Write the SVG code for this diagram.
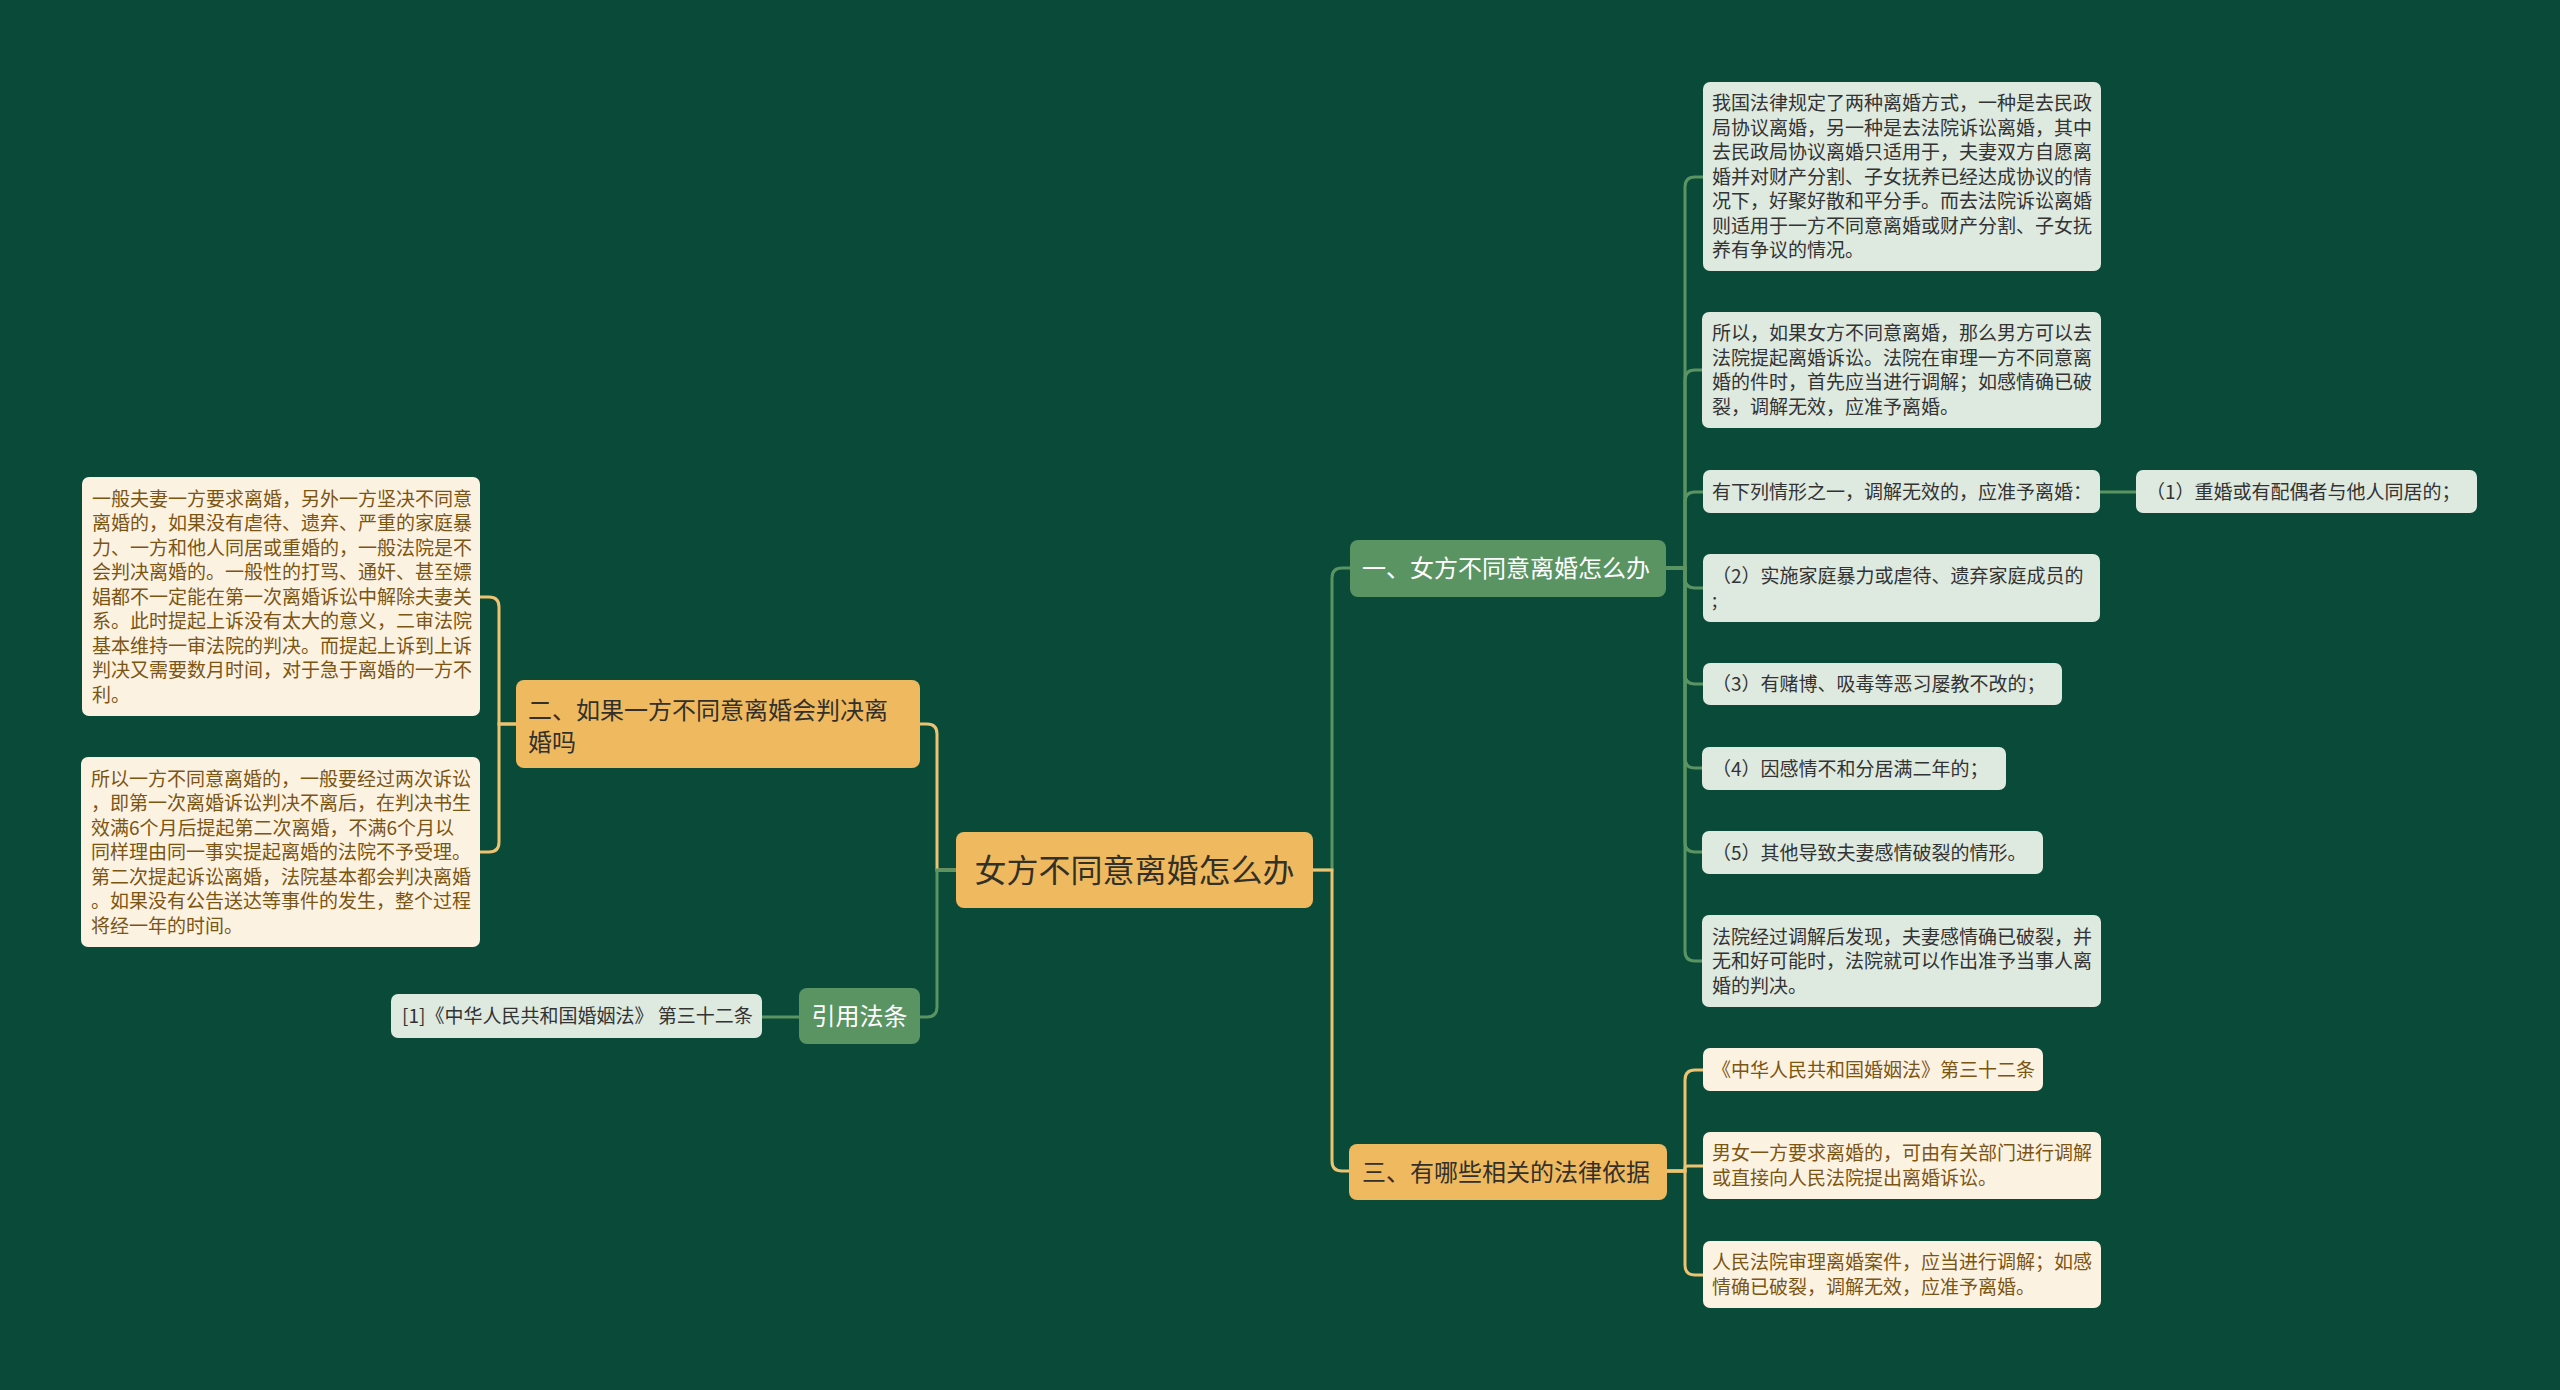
<svg xmlns="http://www.w3.org/2000/svg" width="2560" height="1390" viewBox="0 0 2560 1390">
<style>
text{font-family:"Noto Sans CJK SC","Noto Sans",sans-serif;}
.bg{fill:#0a4a39;}
.cg{fill:none;stroke:#5b9463;stroke-width:3;stroke-linecap:round;}
.cy{fill:none;stroke:#ecc371;stroke-width:3;stroke-linecap:round;}
.root{fill:#efba5f;}
.gnode{fill:#5b9463;}
.ynode{fill:#efba5f;}
.gleaf{fill:#dee9df;}
.yleaf{fill:#fcf2e2;}
.troot{font-size:32px;fill:#333026;}
.tg{font-size:24px;fill:#ffffff;}
.ty{font-size:24px;fill:#33302a;}
.tgl{font-size:19px;fill:#333333;}
.tyl{font-size:19px;fill:#7b5512;}
</style>
<rect class="bg" x="0" y="0" width="2560" height="1390"/>

<g id="connectors">
<path class="cy" d="M956,870 H937 V734 Q937,724 927,724 H920"/>
<path class="cg" d="M956,870 H937 V1007 Q937,1017 927,1017 H920"/>
<path class="cg" d="M1313,870 H1332 V578 Q1332,568 1342,568 H1350"/>
<path class="cy" d="M1313,870 H1332 V1161 Q1332,1171 1342,1171 H1349"/>
<path class="cy" d="M516,724 H499 V607 Q499,597 489,597 H480"/>
<path class="cy" d="M516,724 H499 V842 Q499,852 489,852 H480"/>
<path class="cg" d="M799,1017 H762"/>
<path class="cg" d="M1666,568 H1685 V187 Q1685,177 1695,177 H1703"/>
<path class="cg" d="M1666,568 H1685 V380 Q1685,370 1695,370 H1702"/>
<path class="cg" d="M1666,568 H1685 V502 Q1685,492 1695,492 H1703"/>
<path class="cg" d="M1666,568 H1685 V578 Q1685,588 1695,588 H1703"/>
<path class="cg" d="M1666,568 H1685 V674 Q1685,684 1695,684 H1703"/>
<path class="cg" d="M1666,568 H1685 V758 Q1685,768 1695,768 H1702"/>
<path class="cg" d="M1666,568 H1685 V842 Q1685,852 1695,852 H1702"/>
<path class="cg" d="M1666,568 H1685 V951 Q1685,961 1695,961 H1702"/>
<path class="cg" d="M2100,492 H2136"/>
<path class="cy" d="M1667,1171 H1685 V1080 Q1685,1070 1695,1070 H1703"/>
<path class="cy" d="M1667,1171 H1685 V1168 Q1685,1166 1688,1166 H1703"/>
<path class="cy" d="M1667,1171 H1685 V1265 Q1685,1275 1695,1275 H1703"/>
</g>

<g id="root">
<rect class="root" x="956" y="832" width="357" height="76" rx="8"/>
<text class="troot" x="1134.5" y="882" text-anchor="middle">女方不同意离婚怎么办</text>
</g>

<g id="b1">
<rect class="gnode" x="1350" y="540" width="316" height="57" rx="8"/>
<text class="tg" x="1362" y="577">一、女方不同意离婚怎么办</text>
</g>

<g id="b2">
<rect class="ynode" x="516" y="680" width="404" height="88" rx="8"/>
<text class="ty" x="528" y="718.5">二、如果一方不同意离婚会判决离</text>
<text class="ty" x="528" y="750.5">婚吗</text>
</g>

<g id="b3">
<rect class="ynode" x="1349" y="1144" width="318" height="56" rx="8"/>
<text class="ty" x="1362" y="1181">三、有哪些相关的法律依据</text>
</g>

<g id="b4">
<rect class="gnode" x="799" y="988" width="121" height="56" rx="8"/>
<text class="tg" x="859.5" y="1025" text-anchor="middle">引用法条</text>
</g>

<g id="cite">
<rect class="gleaf" x="391" y="994" width="371" height="44" rx="7"/>
<text class="tgl" x="402" y="1023">[1]《中华人民共和国婚姻法》 第三十二条</text>
</g>

<g id="l1">
<rect class="yleaf" x="82" y="477" width="398" height="239" rx="7"/>
<text class="tyl" x="92" y="505.5">一般夫妻一方要求离婚，另外一方坚决不同意</text>
<text class="tyl" x="92" y="530">离婚的，如果没有虐待、遗弃、严重的家庭暴</text>
<text class="tyl" x="92" y="554.5">力、一方和他人同居或重婚的，一般法院是不</text>
<text class="tyl" x="92" y="579">会判决离婚的。一般性的打骂、通奸、甚至嫖</text>
<text class="tyl" x="92" y="603.5">娼都不一定能在第一次离婚诉讼中解除夫妻关</text>
<text class="tyl" x="92" y="628">系。此时提起上诉没有太大的意义，二审法院</text>
<text class="tyl" x="92" y="652.5">基本维持一审法院的判决。而提起上诉到上诉</text>
<text class="tyl" x="92" y="677">判决又需要数月时间，对于急于离婚的一方不</text>
<text class="tyl" x="92" y="701.5">利。</text>
</g>

<g id="l2">
<rect class="yleaf" x="81" y="757" width="399" height="190" rx="7"/>
<text class="tyl" x="91" y="785.5">所以一方不同意离婚的，一般要经过两次诉讼</text>
<text class="tyl" x="91" y="810">，即第一次离婚诉讼判决不离后，在判决书生</text>
<text class="tyl" x="91" y="834.5">效满6个月后提起第二次离婚，不满6个月以</text>
<text class="tyl" x="91" y="859">同样理由同一事实提起离婚的法院不予受理。</text>
<text class="tyl" x="91" y="883.5">第二次提起诉讼离婚，法院基本都会判决离婚</text>
<text class="tyl" x="91" y="908">。如果没有公告送达等事件的发生，整个过程</text>
<text class="tyl" x="91" y="932.5">将经一年的时间。</text>
</g>

<g id="r1">
<rect class="gleaf" x="1703" y="82" width="398" height="189" rx="7"/>
<text class="tgl" x="1712" y="110">我国法律规定了两种离婚方式，一种是去民政</text>
<text class="tgl" x="1712" y="134.5">局协议离婚，另一种是去法院诉讼离婚，其中</text>
<text class="tgl" x="1712" y="159">去民政局协议离婚只适用于，夫妻双方自愿离</text>
<text class="tgl" x="1712" y="183.5">婚并对财产分割、子女抚养已经达成协议的情</text>
<text class="tgl" x="1712" y="208">况下，好聚好散和平分手。而去法院诉讼离婚</text>
<text class="tgl" x="1712" y="232.5">则适用于一方不同意离婚或财产分割、子女抚</text>
<text class="tgl" x="1712" y="257">养有争议的情况。</text>
</g>

<g id="r2">
<rect class="gleaf" x="1702" y="312" width="399" height="116" rx="7"/>
<text class="tgl" x="1712" y="340.25">所以，如果女方不同意离婚，那么男方可以去</text>
<text class="tgl" x="1712" y="364.75">法院提起离婚诉讼。法院在审理一方不同意离</text>
<text class="tgl" x="1712" y="389.25">婚的件时，首先应当进行调解；如感情确已破</text>
<text class="tgl" x="1712" y="413.75">裂，调解无效，应准予离婚。</text>
</g>

<g id="r3">
<rect class="gleaf" x="1703" y="470" width="397" height="43" rx="7"/>
<text class="tgl" x="1712" y="498.5">有下列情形之一，调解无效的，应准予离婚：</text>
</g>

<g id="r3a">
<rect class="gleaf" x="2136" y="470" width="341" height="43" rx="7"/>
<text class="tgl" x="2146" y="498.5">（1）重婚或有配偶者与他人同居的；</text>
</g>

<g id="r4">
<rect class="gleaf" x="1703" y="554" width="397" height="68" rx="7"/>
<text class="tgl" x="1712" y="582.75">（2）实施家庭暴力或虐待、遗弃家庭成员的</text>
<text class="tgl" x="1712" y="607.25">;</text>
</g>

<g id="r5">
<rect class="gleaf" x="1703" y="663" width="359" height="42" rx="7"/>
<text class="tgl" x="1712" y="691">（3）有赌博、吸毒等恶习屡教不改的；</text>
</g>

<g id="r6">
<rect class="gleaf" x="1702" y="747" width="304" height="43" rx="7"/>
<text class="tgl" x="1712" y="775.5">（4）因感情不和分居满二年的；</text>
</g>

<g id="r7">
<rect class="gleaf" x="1702" y="831" width="341" height="43" rx="7"/>
<text class="tgl" x="1712" y="859.5">（5）其他导致夫妻感情破裂的情形。</text>
</g>

<g id="r8">
<rect class="gleaf" x="1702" y="915" width="399" height="92" rx="7"/>
<text class="tgl" x="1712" y="943.5">法院经过调解后发现，夫妻感情确已破裂，并</text>
<text class="tgl" x="1712" y="968">无和好可能时，法院就可以作出准予当事人离</text>
<text class="tgl" x="1712" y="992.5">婚的判决。</text>
</g>

<g id="y1">
<rect class="yleaf" x="1703" y="1048" width="340" height="43" rx="7"/>
<text class="tyl" x="1712" y="1076.5">《中华人民共和国婚姻法》第三十二条</text>
</g>

<g id="y2">
<rect class="yleaf" x="1703" y="1132" width="398" height="67" rx="7"/>
<text class="tyl" x="1712" y="1160.25">男女一方要求离婚的，可由有关部门进行调解</text>
<text class="tyl" x="1712" y="1184.75">或直接向人民法院提出离婚诉讼。</text>
</g>

<g id="y3">
<rect class="yleaf" x="1703" y="1241" width="398" height="67" rx="7"/>
<text class="tyl" x="1712" y="1269.25">人民法院审理离婚案件，应当进行调解；如感</text>
<text class="tyl" x="1712" y="1293.75">情确已破裂，调解无效，应准予离婚。</text>
</g>
</svg>
